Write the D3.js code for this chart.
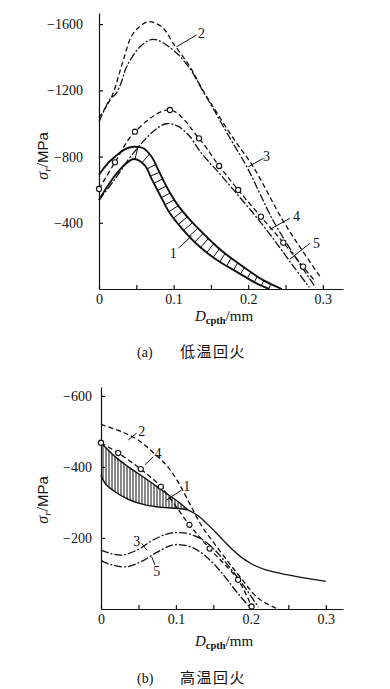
<!DOCTYPE html>
<html lang="zh">
<head>
<meta charset="UTF-8">
<title>残余应力分布</title>
<script src="https://d3js.org/d3.v7.min.js"></script>
<style>
  body { margin: 0; background: #fff; }
  svg { display: block; }
  .tick text { font-family: "Liberation Serif", serif; font-size: 14px; fill: #111; }
  .domain, .tick line { stroke: #111; stroke-width: 1.2; }
  .lbl { font-family: "Liberation Serif", serif; font-size: 14px; fill: #111; }
</style>
</head>
<body>
<svg id="chart" width="390" height="689"></svg>
<script>
// ---- (a) 低温回火 : depth (mm), stress (MPa) ----
const depthTicks = [0, 0.05, 0.1, 0.15, 0.2, 0.25, 0.3];
const depthLabels = [0, 0.1, 0.2, 0.3];
const aStressTicks = [-400, -800, -1200, -1600];

const a1Outer = [[0,-690],[0.012,-760],[0.0214,-799],[0.035,-845],[0.046,-859],[0.0594,-850],[0.0705,-799],[0.0795,-719],[0.0906,-618],[0.104,-517],[0.122,-417],[0.144,-316],[0.166,-225],[0.193,-135],[0.22,-54],[0.245,0]];
const a1Inner = [[0,-537],[0.012,-625],[0.024,-700],[0.036,-757],[0.047,-785],[0.0616,-745],[0.0705,-665],[0.0817,-568],[0.095,-457],[0.113,-356],[0.135,-255],[0.158,-175],[0.184,-105],[0.211,-34],[0.228,0]];
const a2 = [[0,-1035],[0.01,-1105],[0.019,-1182],[0.0326,-1383],[0.046,-1544],[0.066,-1614],[0.085,-1580],[0.0995,-1484],[0.122,-1342],[0.138,-1210],[0.153,-1100],[0.18,-910],[0.2066,-739],[0.246,-417],[0.272,-235],[0.297,-70]];
const a3 = [[0,-1010],[0.008,-1090],[0.015,-1150],[0.022,-1175],[0.03,-1250],[0.037,-1342],[0.055,-1463],[0.0727,-1508],[0.0995,-1443],[0.122,-1330],[0.138,-1205],[0.153,-1090],[0.175,-915],[0.198,-739],[0.233,-417],[0.26,-215],[0.29,-10]];
const a4Marks = [[0,-604],[0.0214,-765],[0.0482,-950],[0.0951,-1081],[0.134,-910],[0.161,-743],[0.1866,-598],[0.217,-437],[0.247,-280],[0.2735,-135]];
const a4End = [0.29,-45];
const a5 = [[0,-537],[0.02,-655],[0.04,-785],[0.06,-895],[0.075,-960],[0.09,-998],[0.105,-985],[0.12,-930],[0.1375,-819],[0.16,-705],[0.18,-600],[0.209,-445],[0.235,-295],[0.26,-140],[0.282,-10]];
const aHatchFrom = 0.04;
// curve labels: [text, textX, textY, leaderX1, leaderY1, leaderX2, leaderY2]
const aNotes = [
  ["2", 0.1375,-1544, 0.1308,-1534, 0.1039,-1463],
  ["3", 0.2246,-799, 0.22,-789, 0.2,-738],
  ["4", 0.2648,-437, 0.2558,-427, 0.229,-360],
  ["5", 0.2915,-276, 0.2826,-276, 0.2558,-180],
  ["1", 0.0995,-216, 0.1062,-246, 0.1241,-320]
];

// ---- (b) 高温回火 ----
const bStressTicks = [-200, -400, -600];
const b1Upper = [[0,-468],[0.0187,-429],[0.036,-401],[0.059,-368],[0.081,-335],[0.103,-302],[0.116,-279]];
const b1Lower = [[0,-377],[0.0053,-354],[0.0187,-330],[0.036,-309],[0.059,-293],[0.081,-286],[0.103,-283],[0.116,-279]];
const b1Tail = [[0.116,-279],[0.13,-262],[0.141,-241],[0.152,-218],[0.163,-194],[0.175,-168],[0.187,-146],[0.2,-128],[0.22,-110],[0.25,-96],[0.275,-86],[0.3,-78]];
const b2 = [[0,-520],[0.03,-497],[0.05,-475],[0.07,-440],[0.09,-398],[0.105,-350],[0.12,-290],[0.135,-232],[0.15,-188],[0.17,-132],[0.185,-92],[0.21,-30],[0.236,0]];
const b3 = [[0,-166],[0.015,-155],[0.03,-152],[0.05,-168],[0.07,-195],[0.09,-212],[0.105,-215],[0.12,-210],[0.135,-196],[0.15,-170],[0.165,-135],[0.18,-95],[0.195,-52],[0.21,-5]];
const b4Marks = [[0,-468],[0.023,-439],[0.053,-394],[0.08,-344],[0.118,-237],[0.145,-170],[0.183,-82],[0.201,-7]];
const b5 = [[0,-136],[0.015,-124],[0.035,-119],[0.055,-135],[0.075,-160],[0.095,-180],[0.11,-180],[0.125,-170],[0.14,-148],[0.155,-117],[0.17,-78],[0.185,-38],[0.2,-2]];
const bNotes = [
  ["2", 0.0543,-499, 0.0476,-495, 0.0364,-476],
  ["4", 0.076,-437, 0.0697,-428, 0.0587,-406],
  ["1", 0.1143,-345, 0.1076,-335, 0.0876,-307],
  ["3", 0.0476,-190, 0.0543,-185, 0.061,-166],
  ["5", 0.0743,-105, 0.072,-124, 0.0676,-147]
];

const svg = d3.select("#chart");
const DASH = "5,3", DASHDOT = "8,2,2,2";

function panel(opt) {
  const x = d3.scaleLinear().domain([0, opt.xMax]).range([opt.left, 343]);
  const y = d3.scaleLinear().domain([0, opt.yMin]).range([opt.bottom, opt.top]);
  const g = svg.append("g");
  const line = d3.line().x(d => x(d[0])).y(d => y(d[1])).curve(d3.curveCatmullRom.alpha(0.5));

  // axes, ticks pointing inside
  g.append("g").attr("transform", `translate(0,${opt.bottom})`)
    .call(d3.axisBottom(x).tickValues(depthTicks).tickSizeInner(-4).tickSizeOuter(0).tickPadding(5)
      .tickFormat(d => depthLabels.some(v => Math.abs(v - d) < 1e-9) ? (d === 0 ? "0" : d3.format(".1f")(d)) : ""));
  g.append("g").attr("transform", `translate(${opt.left},0)`)
    .call(d3.axisLeft(y).tickValues(opt.yTicks).tickSizeInner(-4).tickSizeOuter(0).tickPadding(opt.yPad)
      .tickFormat(d3.format("d")));

  // band (curve 1)
  const bandPath = line(opt.band1[0]) + line(opt.band1[1].slice().reverse()).replace(/^M/, "L") + "Z";
  g.append("clipPath").attr("id", opt.id).append("path").attr("d", bandPath);
  const hatch = g.append("g").attr("clip-path", `url(#${opt.id})`)
    .attr("stroke", "#111").attr("stroke-width", 1);
  if (opt.rungs) {
    const tmp = g.append("path").attr("d", line(opt.band1[1])).attr("fill", "none");
    const node = tmp.node(), len = node.getTotalLength();
    for (let L = 0; L < len; L += 8) {
      const p = node.getPointAtLength(L), q = node.getPointAtLength(Math.min(L + 1, len));
      if (p.x < x(opt.hatchFrom)) continue;
      let tx = q.x - p.x, ty = q.y - p.y;
      const n = Math.hypot(tx, ty) || 1;
      tx /= n; ty /= n;
      hatch.append("line").attr("x1", p.x + ty * 25).attr("y1", p.y - tx * 25)
        .attr("x2", p.x - ty * 25).attr("y2", p.y + tx * 25);
    }
    tmp.remove();
  } else {
    d3.range(x(0) + 2, x(opt.band1[0][opt.band1[0].length - 1][0]), 3).forEach(px => {
      hatch.append("line").attr("x1", px).attr("x2", px).attr("y1", opt.top).attr("y2", opt.bottom);
    });
  }
  const bandLines = opt.band1.map(c => g.append("path").attr("d", line(c)));
  if (opt.tail) g.append("path").attr("d", line(opt.tail));

  opt.series.forEach(s => {
    g.append("path").attr("d", line(s.data)).attr("stroke-dasharray", s.dash);
  });
  g.selectAll("path:not(.domain)").filter(function() { return !this.closest("clipPath"); })
    .attr("fill", "none").attr("stroke", "#111").attr("stroke-width", 1.3);
  bandLines.forEach(p => p.attr("stroke-width", opt.bandWidth));

  g.selectAll("circle.m").data(opt.marks).join("circle").attr("class", "m")
    .attr("cx", d => x(d[0])).attr("cy", d => y(d[1])).attr("r", 2.6)
    .attr("fill", "#fff").attr("stroke", "#111").attr("stroke-width", 1.1);

  opt.notes.forEach(n => {
    g.append("line").attr("x1", x(n[3])).attr("y1", y(n[4])).attr("x2", x(n[5])).attr("y2", y(n[6]))
      .attr("stroke", "#111").attr("stroke-width", 1);
    g.append("text").attr("class", "lbl").attr("x", x(n[1])).attr("y", y(n[2]))
      .attr("text-anchor", "middle").attr("dominant-baseline", "central").text(n[0]);
  });

  // axis titles
  const yt = g.append("text").attr("transform", `translate(48,${opt.yLabelY}) rotate(-90)`)
    .attr("text-anchor", "middle").attr("font-size", 16).attr("fill", "#111");
  yt.append("tspan").attr("font-family", "Liberation Serif").attr("font-style", "italic").text("σ");
  yt.append("tspan").attr("font-family", "Liberation Serif").attr("font-style", "italic")
    .attr("font-size", 11).attr("dy", 3).text("r");
  yt.append("tspan").attr("font-family", "Liberation Serif").attr("dy", -3).text("/");
  yt.append("tspan").attr("font-family", "Liberation Sans").attr("font-size", 15).text("MPa");

  const xt = g.append("text").attr("x", 224).attr("y", opt.xLabelY)
    .attr("text-anchor", "middle").attr("font-size", 15).attr("fill", "#111");
  xt.append("tspan").attr("font-family", "Liberation Serif").attr("font-style", "italic").text("D");
  xt.append("tspan").attr("font-family", "Liberation Serif").attr("font-weight", "bold")
    .attr("font-size", 10.5).attr("dy", 3).text("cpth");
  xt.append("tspan").attr("font-family", "Liberation Serif").attr("dy", -3).text("/mm");

  const cap = g.append("g").attr("transform", `translate(0,${opt.capY})`).attr("fill", "#111");
  cap.append("text").attr("x", 137).attr("font-family", "Liberation Serif").attr("font-size", 14).text(opt.capTag);
  cap.append("text").attr("x", 180).attr("font-family", "Noto Sans CJK SC").attr("font-size", 15)
    .attr("letter-spacing", 1.5).text(opt.capText);
}

panel({
  id: "clipA", left: 99, top: 13, bottom: 289, xMax: 0.327, yMin: -1667, yTicks: aStressTicks, yPad: 16,
  band1: [a1Outer, a1Inner], rungs: true, hatchFrom: aHatchFrom, bandWidth: 1.9,
  series: [
    { data: a2, dash: DASH },
    { data: a3, dash: DASHDOT },
    { data: a4Marks.concat([a4End]), dash: DASH },
    { data: a5, dash: DASHDOT }
  ],
  marks: a4Marks, notes: aNotes,
  yLabelY: 156, xLabelY: 321, capY: 357, capTag: "(a)", capText: "低温回火"
});

panel({
  id: "clipB", left: 101, top: 387, bottom: 609, xMax: 0.323, yMin: -625, yTicks: bStressTicks, yPad: 9,
  band1: [b1Upper, b1Lower], rungs: false, tail: b1Tail, bandWidth: 1.4,
  series: [
    { data: b2, dash: DASH },
    { data: b3, dash: DASHDOT },
    { data: b4Marks, dash: DASH },
    { data: b5, dash: DASHDOT }
  ],
  marks: b4Marks, notes: bNotes,
  yLabelY: 500, xLabelY: 646, capY: 683, capTag: "(b)", capText: "高温回火"
});
</script>
</body>
</html>
